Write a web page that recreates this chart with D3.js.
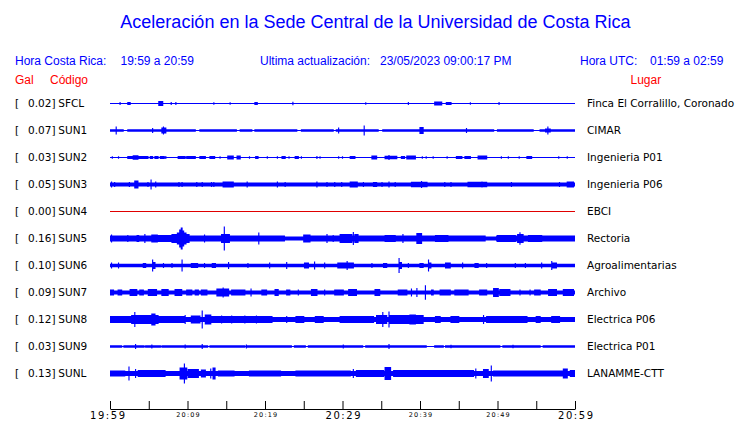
<!DOCTYPE html>
<html><head><meta charset="utf-8">
<script src="https://cdn.jsdelivr.net/npm/d3@7"></script>
<style>body{margin:0;background:#fff;} svg{display:block}</style>
</head><body><svg id="c" width="740" height="423"></svg>
<script>
// ---- data ----
const codes  = ["SFCL","SUN1","SUN2","SUN3","SUN4","SUN5","SUN6","SUN7","SUN8","SUN9","SUNL"];
const places = ["Finca El Corralillo, Coronado","CIMAR","Ingenieria P01","Ingenieria P06","EBCI","Rectoria","Agroalimentarias","Archivo","Electrica P06","Electrica P01","LANAMME-CTT"];
const gal    = [0.02,0.07,0.03,0.05,0.00,0.16,0.10,0.09,0.12,0.03,0.13];
const tickLabels = ["19:59","20:09","20:19","20:29","20:39","20:49","20:59"];
// envelope segments per station: [startMinute, endMinute, halfAmplitude]
const sfcl = [[0,60,0.5],[1.3,1.3,1.5],[2.3,2.6,1.5],[6.3,6.8,2.5],[7.9,7.9,1.5],[8.5,8.5,1.5],[13.4,13.4,1.2],[15.5,15.5,1.2],[18.7,19.0,1.5],[23.6,23.6,1.8],[33,33,1.2],[38.5,38.5,1.5],[41.9,42.8,2],[43.4,44,1.5],[46.5,46.5,1.2],[50.2,50.2,1.5]];
const sun1 = [[0,60,0.5],[0,1.7,1.3],[2.3,11,1.3],[11.6,16.3,1.3],[16.8,18.3,1.3],[18.7,24.1,1.3],[24.7,28.8,1.3],[29.2,34.6,1.3],[35.2,49.5,1.3],[50,54.6,1.3],[55.5,60,1.3],[0.8,0.8,4],[5.5,5.5,2.5],[6.7,7.2,3],[6.9,6.9,4],[29.5,29.5,3],[32.8,32.8,5],[40,40.4,3.5],[46,46,2.5],[56.2,56.8,2],[56.5,56.5,4]];
const sun2 = [[0,60,0.5],[0.3,0.3,1.2],[1.1,1.1,1.2],[2.3,2.9,1.5],[3.0,3.6,2.3],[3.6,4.9,1.5],[5.2,5.5,1.5],[5.8,6.2,1.5],[6.5,7.0,1.5],[7.2,7.2,1.5],[8.8,9.7,1.5],[9.9,11,1.5],[11.6,12.3,1.5],[12.9,13.5,1.5],[14.2,14.2,1.3],[15.2,15.9,2],[16.4,16.8,2],[18.0,18.0,1.3],[18.8,19.1,1.5],[20.3,20.3,1.3],[21.6,21.6,1.3],[22.2,22.6,1.5],[23.1,23.1,1.3],[23.9,24.3,1.5],[24.7,24.7,1.3],[26.7,26.7,1.5],[27.1,27.1,1.3],[29.5,29.5,1.3],[30,30,1.2],[31,31.6,1.5],[33.8,34.4,2],[35.5,37,1.8],[36.0,36.0,2.5],[37.6,38,1.5],[38.3,39.4,2],[40.3,40.3,1.3],[40.8,40.8,1.3],[41.7,41.7,1.3],[43.5,43.5,1.2],[44.7,45.4,1.5],[45.8,46.5,1.5],[47.5,48.6,2],[50.5,50.5,1.3],[51.4,51.4,1.3],[52.8,52.8,1.3],[53.8,54.4,1.5],[57.9,57.9,1.3],[59,59,1.3]];
const sun3 = [[0,60,2],[0.2,0.2,3],[0.6,0.6,2.5],[2.5,2.5,2.5],[3.2,3.6,4],[4.9,4.9,2.5],[5.3,5.3,5],[5.9,5.9,3],[8.9,8.9,2.5],[9.3,9.3,2.5],[11.2,11.2,2.5],[11.9,11.9,2.5],[13.1,13.1,2.5],[13.4,13.4,2.5],[14.6,15.9,3],[17.7,17.7,3],[21.6,21.6,3],[22.6,22.6,2.5],[26.7,26.7,3],[28,28,2.5],[29,29,2.5],[29.9,29.9,2.5],[31,31.9,3],[32.7,32.7,2.5],[34,34.4,2.5],[35.1,35.1,2.5],[36,36,3],[36.8,36.8,2.5],[38.9,40.9,2.7],[40.2,40.2,3.5],[43.2,43.2,2.5],[44,44,2.5],[46.2,48.6,2.7],[48,48,3],[51.8,51.8,2.5],[58,58,2.5],[59,59.8,3]];
const sun4 = [[0,60,0.5]];
const sun5 = [[0,22.5,3],[22.5,25,2],[25,48.4,3],[48.4,49.9,2],[49.9,60,3],[0.2,0.2,4],[2.3,2.3,3.5],[3.5,3.7,3.5],[4.5,4.5,4.5],[5.4,6.1,4],[6.2,7.9,3.5],[8,8.6,4.5],[8.7,8.9,6],[9.0,9.1,9],[9.2,9.3,11],[9.4,9.5,8],[9.6,9.8,6],[9.9,10.2,4.5],[12.2,12.2,4],[14.4,15.4,4.5],[14.75,14.75,12],[19.2,19.2,6],[25,25.8,4],[28,28,4.5],[28.8,28.8,3.5],[29.7,31.2,4.5],[31.4,31.4,6.5],[31.6,32,4.5],[35.5,36.8,3.5],[37.8,37.8,4.5],[39.6,40.2,5.5],[42,43.6,3.5],[50,52.3,3.5],[52.6,53.3,4.5],[52.9,52.9,6.3],[54,55.7,3.5]];
const sun6 = [[0,60,1.8],[0.2,0.2,3],[1.1,1.1,3],[4.3,4.6,2.5],[5.5,5.5,6],[5.6,5.8,3.5],[6.9,6.9,2.5],[8,8,2.5],[9.3,9.3,6],[10.5,11.3,2.5],[12.2,12.2,2.5],[13.2,13.6,2.5],[15.3,15.3,3.5],[17.8,17.8,2.5],[20.6,20.6,3],[22.8,22.8,3.5],[25.1,25.6,3],[26.4,26.4,4],[27.7,27.7,3],[29.4,31.4,3],[30.6,30.6,4.5],[33.8,33.8,2.5],[35.3,35.7,2.5],[37.3,37.3,7.5],[37.4,37.6,3.5],[38.5,38.5,2.5],[40,40.4,2.5],[41.1,41.1,6],[41.2,41.4,3],[43.3,43.9,3],[45.5,45.5,3],[47.1,47.5,2.5],[48.6,48.6,2.5],[52.3,52.3,2.5],[53.6,53.6,2.5],[55.7,55.7,3],[57,57,4.5],[57.1,57.6,3]];
const sun7 = [[0,60,2],[0,0.43,3],[1.07,1.5,3],[2.58,3.44,3.5],[3.87,4.3,3],[4.95,6.02,3.5],[6.7,7.5,3.5],[8.4,9.25,3.5],[9.9,10.54,3],[11,11.4,3],[11.8,12.5,3],[13.8,15.3,4],[14.6,14.6,5],[15.7,17.4,3],[18.2,18.2,4],[19.6,20.2,3],[21.3,21.7,3.5],[22.8,23.2,3],[24.3,24.3,3],[26,26.7,3.5],[27.7,27.7,3],[29,29.7,3],[29.7,30.1,3],[30.8,31.8,3.5],[34.2,34.8,3.5],[37.2,38.3,3],[38.9,38.9,4],[39.6,39.6,4.5],[40.7,40.7,7.3],[41.5,41.7,3],[42.6,43.9,3],[44.5,46.2,3],[47.7,48.6,3],[49.5,50.1,4.5],[50.3,51.6,3.5],[52.9,52.9,3],[54.2,54.2,3],[54.8,55.5,3],[56.6,57.6,3.5],[58.5,59.8,3.5]];
const sun8 = [[0,60,2.5],[0,2.8,3.5],[2.8,6.2,4.5],[3.2,3.2,7.5],[5.4,5.8,6],[6.2,9.7,3.5],[9.7,9.7,4.5],[10.5,11.6,4],[11.9,11.9,9],[12.3,13,5],[13.1,20.9,3.5],[14.4,14.4,4],[15.7,15.7,4],[17.4,17.4,4],[18.9,18.9,4],[22.8,22.8,3.5],[24,25,3.5],[26.5,27.5,3.5],[29.7,34,3.5],[34.4,35.7,4.5],[35.2,35.2,7.5],[36,36,8],[36.1,40.4,4.5],[38.7,39.4,5],[42,42.6,3.5],[44,45,3.5],[48.2,48.2,4.5],[48.6,53.8,3.5],[55,55.5,3.5],[57,58,3.5]];
const sun9 = [[0,60,0.6],[0,1.5,1.3],[1.8,4.4,1.3],[4.6,6.5,1.3],[6.7,12.6,1.3],[12.9,17.4,1.3],[17.6,23.4,1.3],[23.8,25.2,1.3],[25.6,32.6,1.3],[33,40.8,1.3],[41.9,43,1.3],[43.3,50.3,1.3],[50.7,55.5,1.3],[55.9,60,1.3],[3.3,3.3,2.5],[5.4,5.4,2],[9.7,9.7,2],[11.9,11.9,2.5],[17.6,17.6,2],[30.1,30.1,2],[36,36,2.5],[44,44,1.8],[52,52,1.8]];
const sunl = [[0,60,2.5],[0,1.9,3],[2.45,2.45,7],[3.3,3.3,4.5],[3.65,7.1,3.5],[9.03,9.9,6],[9.6,9.6,10],[10.1,11.4,4.5],[11.8,12.3,4],[13.0,13.0,5],[13.3,13.55,6],[14,16,3],[18,22,3],[24,30,3],[29.7,31,3],[31.4,31.4,4.5],[31.8,35.3,3.5],[35.5,36.2,6.5],[36.6,46.9,3.5],[47.2,47.2,5],[48.2,48.8,4.5],[49.2,49.2,8],[49.5,58.5,3],[58.5,59,5],[59.4,60,3.5]];
const traces = [sfcl,sun1,sun2,sun3,sun4,sun5,sun6,sun7,sun8,sun9,sunl];

// ---- drawing ----
const svg = d3.select("#c");
const x = d3.scaleLinear().domain([0,60]).range([110,575]);
const row = d3.scaleLinear().domain([0,10]).range([103.5,373.5]);
const amp = d3.scaleLinear().domain([-13,13]).range([13,-13]);

svg.append("text").attr("x",375.5).attr("y",28).attr("text-anchor","middle")
  .attr("font-family","Liberation Sans, Arial, sans-serif").attr("font-size",18)
  .attr("fill","#0000ff").text("Aceleración en la Sede Central de la Universidad de Costa Rica");

const hdr = [["Hora Costa Rica:",15],["19:59 a 20:59",120.5],["Ultima actualización:",260],["23/05/2023 09:00:17 PM",380],["Hora UTC:",580],["01:59 a 02:59",650]];
svg.selectAll("text.h").data(hdr).join("text").attr("class","h")
  .attr("x",d=>d[1]).attr("y",65).attr("font-family","Liberation Sans, Arial, sans-serif")
  .attr("font-size",12).attr("fill","#0000ff").text(d=>d[0]);
const hdr2 = [["Gal",15],["Código",50],["Lugar",630.5]];
svg.selectAll("text.h2").data(hdr2).join("text").attr("class","h2")
  .attr("x",d=>d[1]).attr("y",84).attr("font-family","Liberation Sans, Arial, sans-serif")
  .attr("font-size",12).attr("fill","#ff0000").text(d=>d[0]);

const lab = svg.append("g").attr("font-family","DejaVu Sans, sans-serif").attr("font-size",10.5).attr("fill","#000");
codes.forEach((c,i)=>{
  const yb = row(i)+3.5;
  lab.append("text").attr("x",15).attr("y",yb).text("[");
  lab.append("text").attr("x",55.5).attr("y",yb).attr("text-anchor","end").text(d3.format(".2f")(gal[i])+"]");
  lab.append("text").attr("x",58.3).attr("y",yb).text(c);
  lab.append("text").attr("x",587).attr("y",yb).text(places[i]);
});

function envelope(segs){
  const pts=[];
  for(let i=0;i<=1200;i++){
    const t=i*0.05; let h=0;
    for(const [a,b,v] of segs){ if(t>=a-0.07 && t<=b+0.07 && v>h) h=v; }
    pts.push([t,h]);
  }
  return pts;
}
traces.forEach((segs,i)=>{
  const cy=row(i);
  const area=d3.area().curve(d3.curveStep).x(d=>x(d[0])).y0(d=>cy+amp(-d[1])).y1(d=>cy+amp(d[1]));
  svg.append("path").datum(envelope(segs)).attr("d",area)
    .attr("fill", codes[i]==="SUN4" ? "#e00000" : "#0000ff").attr("stroke","none");
});

// axis
const t0=new Date(2023,4,23,19,59), t1=new Date(2023,4,23,20,59);
const xt=d3.scaleTime().domain([t0,t1]).range([110,575]);
const tv=d3.range(13).map(k=>d3.timeMinute.offset(t0,5*k));
const ax=d3.axisBottom(xt).tickValues(tv).tickSize(-8).tickSizeOuter(0).tickPadding(0)
  .tickFormat((d,i)=> i%2===0 ? tickLabels[i/2] : "");
const g=svg.append("g").attr("transform","translate(0,409)").call(ax);
g.select(".domain").attr("stroke","#000");
g.selectAll(".tick line").attr("stroke","#000");
g.selectAll(".tick text").each(function(d,i){
  const big = i%6===0;
  d3.select(this).attr("font-family","DejaVu Sans, sans-serif").attr("fill","#000")
    .attr("font-size", big?10:6.5).attr("dy",null).attr("y", big?10:7.7)
    .attr("dx", i===0 ? -3 : 0)
    .attr("textLength", big?35:23.5).attr("lengthAdjust","spacing");
});
</script></body></html>
